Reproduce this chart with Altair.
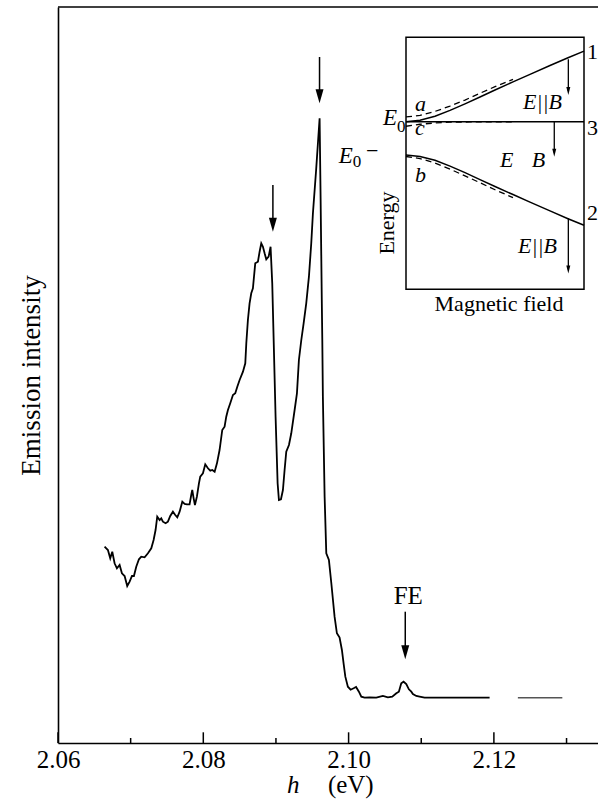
import altair as alt
import pandas as pd

FONT = "Liberation Serif"

# ---------------- main spectrum (photon energy in eV, intensity in arb. units) ----------------
energy = [
    2.06641, 2.06687, 2.06719, 2.06747, 2.06779, 2.06811, 2.06848, 2.06880, 2.06917, 2.06953,
    2.06986, 2.07018, 2.07045, 2.07077, 2.07114, 2.07146, 2.07192, 2.07238, 2.07284, 2.07316,
    2.07343, 2.07366, 2.07399, 2.07421, 2.07444, 2.07481, 2.07513, 2.07545, 2.07582, 2.07614,
    2.07642, 2.07674, 2.07711, 2.07743, 2.07775, 2.07811, 2.07834, 2.07848, 2.07867, 2.07885,
    2.07912, 2.07940, 2.07958, 2.07995, 2.08027, 2.08064, 2.08096, 2.08124, 2.08156, 2.08188,
    2.08224, 2.08261, 2.08293, 2.08316, 2.08339, 2.08371, 2.08408, 2.08440, 2.08468, 2.08500,
    2.08546, 2.08578, 2.08592, 2.08614, 2.08637, 2.08660, 2.08683, 2.08715, 2.08752, 2.08775,
    2.08798, 2.08821, 2.08844, 2.08867, 2.08899, 2.08926, 2.08949, 2.08972, 2.08995, 2.09023,
    2.09041, 2.09069, 2.09096, 2.09119, 2.09142, 2.09179, 2.09211, 2.09257, 2.09289, 2.09316,
    2.09349, 2.09381, 2.09417, 2.09454, 2.09486, 2.09509, 2.09553, 2.09601, 2.09615, 2.09631,
    2.09638, 2.09646, 2.09670, 2.09693, 2.09729, 2.09762, 2.09807, 2.09839, 2.09876, 2.09908,
    2.09931, 2.09955, 2.09990, 2.10028, 2.10069, 2.10103, 2.10142, 2.10175, 2.10220, 2.10289,
    2.10381, 2.10472, 2.10541, 2.10601, 2.10657, 2.10692, 2.10725, 2.10757, 2.10794, 2.10830,
    2.10863, 2.10885, 2.10932, 2.10977, 2.11046, 2.11941,
]
intensity = [
    196.3, 193.0, 184.7, 191.3, 179.7, 174.7, 178.0, 169.7, 167.0, 157.0,
    161.3, 167.0, 167.0, 176.3, 183.7, 186.3, 185.7, 189.7, 194.7, 203.0,
    213.0, 226.3, 223.0, 224.7, 221.3, 219.7, 221.3, 227.0, 231.3, 228.0,
    225.7, 231.3, 241.3, 239.0, 238.7, 238.7, 248.0, 253.0, 244.7, 238.0,
    246.3, 259.7, 266.3, 269.7, 278.7, 274.7, 272.3, 273.0, 271.3, 279.7,
    293.0, 313.0, 316.3, 326.3, 333.0, 339.7, 348.0, 349.7, 356.3, 363.0,
    371.3, 379.7, 399.7, 423.0, 439.7, 449.7, 454.7, 479.7, 481.3, 491.3,
    499.7, 496.3, 489.7, 483.7, 486.3, 496.3, 459.7, 393.0, 326.3, 259.7,
    243.0, 243.7, 253.0, 273.0, 291.3, 298.0, 309.7, 333.0, 349.7, 383.0,
    403.0, 419.7, 439.7, 466.3, 499.7, 529.7, 573.0, 624.7, 543.0, 443.0,
    403.0, 346.3, 246.3, 189.7, 183.0, 160.0, 126.3, 109.7, 105.5, 93.0,
    79.7, 66.3, 56.3, 53.3, 54.7, 56.0, 51.3, 46.3, 45.3, 45.7,
    45.3, 47.0, 45.7, 46.3, 49.7, 51.3, 59.7, 61.3, 59.0, 53.7,
    51.3, 49.0, 47.0, 46.3, 45.3, 45.3,
]
energy_tail = [2.12330, 2.12942]
intensity_tail = [45.3, 45.3]

x_domain = [2.06, 2.13433]
y_domain = [0, 736]
major_ticks = [2.06, 2.08, 2.10, 2.12]
minor_ticks = [2.07, 2.09, 2.11, 2.13]

arrow_energy = [2.08958, 2.09600, 2.10780]
arrow_top = [558.0, 686.0, 131.3]
arrow_tip = [511.3, 639.7, 83.7]

fe_energy, fe_intensity = [2.10822], [139.0]
xlabel_h_energy, xlabel_unit_energy, xlabel_level = [2.09151], [2.09715], [-50.0]

# ---------------- inset (magnetic field / energy, both in relative units 0..1) ----------------
field = [0.0, 0.0787, 0.1629, 0.2472, 0.3315, 0.4157, 0.5, 0.6011, 0.6966, 0.809, 0.9101, 1.0]
level_1 = [0.665, 0.671, 0.687, 0.710, 0.736, 0.763, 0.791, 0.823, 0.853, 0.888, 0.919, 0.945]
level_2 = [0.533, 0.527, 0.512, 0.489, 0.463, 0.435, 0.408, 0.376, 0.346, 0.311, 0.280, 0.254]
level_3_field = [0.0, 1.0]
level_3 = [0.665, 0.665]

field_dashed = [0.0, 0.0787, 0.1629, 0.2472, 0.3315, 0.4157, 0.5, 0.6011]
dashed_a = [0.684, 0.690, 0.706, 0.727, 0.751, 0.778, 0.804, 0.833]
dashed_b = [0.527, 0.519, 0.501, 0.477, 0.450, 0.423, 0.395, 0.364]
field_dashed_c = [0.0, 0.0787, 0.1629, 0.2472, 0.3596, 0.6011]
dashed_c = [0.647, 0.655, 0.660, 0.663, 0.664, 0.664]

inset_arrow_field = [0.912, 0.833, 0.912]
inset_arrow_top = [0.913, 0.665, 0.282]
inset_arrow_tip = [0.771, 0.526, 0.063]

# ---------------- scales / encodings ----------------
xs = alt.Scale(domain=x_domain, nice=False, zero=False)
ys = alt.Scale(domain=y_domain, nice=False, zero=False)
x_axis = alt.Axis(values=major_ticks, format=".2f", ticks=False, grid=False,
                  labelFont=FONT, labelFontSize=25, labelColor="black", labelPadding=4,
                  labelFlush=False, domainColor="black", domainWidth=1.6, title=None)
y_axis = alt.Axis(labels=False, ticks=False, grid=False, domainColor="black", domainWidth=1.6,
                  title="Emission intensity", titleFont=FONT, titleFontSize=27,
                  titleFontWeight="normal", titleColor="black", titlePadding=13)


def X(f):
    return alt.X(f"{f}:Q", scale=xs, axis=x_axis)


def Y(f):
    return alt.Y(f"{f}:Q", scale=ys, axis=y_axis)


ixs = alt.Scale(domain=[0, 1], range=[348, 526], nice=False, zero=False)
iys = alt.Scale(domain=[0, 1], range=[282.3, 30.3], nice=False, zero=False)


def IX(f):
    return alt.X(f"{f}:Q", scale=ixs, axis=None)


def IY(f):
    return alt.Y(f"{f}:Q", scale=iys, axis=None)


# ---------------- main layers ----------------
spec_df = pd.DataFrame({"E": energy, "I": intensity, "i": list(range(len(energy)))})
tail_df = pd.DataFrame({"E": energy_tail, "I": intensity_tail, "i": [0, 1]})

curve = alt.Chart(spec_df).mark_line(color="black", strokeWidth=1.8).encode(
    x=X("E"), y=Y("I"), order="i:Q")
tail = alt.Chart(tail_df).mark_line(color="#555555", strokeWidth=1.5).encode(
    x=X("E"), y=Y("I"), order="i:Q")

top_df = pd.DataFrame({"E": [x_domain[0]], "E2": [x_domain[1]], "I": [y_domain[1]]})
top_rule = alt.Chart(top_df).mark_rule(color="black", strokeWidth=1.6).encode(
    x=X("E"), x2="E2:Q", y=Y("I"))

tick_df = pd.DataFrame({
    "E": major_ticks + minor_ticks,
    "I": [0.0] * 8,
    "I2": [10.7] * 4 + [5.0] * 4,
})
tick_rules = alt.Chart(tick_df).mark_rule(color="black", strokeWidth=1.5).encode(
    x=X("E"), y=Y("I"), y2="I2:Q")

arrow_df = pd.DataFrame({
    "E": arrow_energy,
    "I": arrow_top,
    "H": [t + 7 for t in arrow_tip],
})
arrow_lines = alt.Chart(arrow_df).mark_rule(color="black", strokeWidth=1.5).encode(
    x=X("E"), y=Y("I"), y2="H:Q")
arrow_heads = alt.Chart(arrow_df).mark_point(
    shape="M-0.57,-1L0.57,-1L0,1Z", size=196, filled=True, color="black", opacity=1
).encode(x=X("E"), y=Y("H"))

fe_text = alt.Chart(pd.DataFrame({"E": fe_energy, "I": fe_intensity, "t": ["FE"]})).mark_text(
    font=FONT, fontSize=25, align="center", baseline="alphabetic", color="black"
).encode(x=X("E"), y=Y("I"), text="t:N")
h_text = alt.Chart(pd.DataFrame({"E": xlabel_h_energy, "I": xlabel_level, "t": ["h"]})).mark_text(
    font=FONT, fontSize=25, fontStyle="italic", align="left", baseline="alphabetic", color="black"
).encode(x=X("E"), y=Y("I"), text="t:N")
ev_text = alt.Chart(pd.DataFrame({"E": xlabel_unit_energy, "I": xlabel_level, "t": ["(eV)"]})).mark_text(
    font=FONT, fontSize=25, align="left", baseline="alphabetic", color="black"
).encode(x=X("E"), y=Y("I"), text="t:N")

main = alt.layer(curve, tail, top_rule, tick_rules, arrow_lines, arrow_heads,
                 fe_text, h_text, ev_text)

# ---------------- inset layers ----------------
frame = alt.Chart(pd.DataFrame({"B": [0.0], "B2": [1.0], "En": [0.0], "En2": [1.0]})).mark_rect(
    fill="white", stroke="black", strokeWidth=1.5
).encode(x=IX("B"), x2="B2:Q", y=IY("En"), y2="En2:Q")

solid_df = pd.DataFrame({
    "B": field + field + level_3_field,
    "En": level_1 + level_2 + level_3,
    "k": ["1"] * len(field) + ["2"] * len(field) + ["3"] * len(level_3_field),
    "i": list(range(len(field))) * 2 + [0, 1],
})
solid = alt.Chart(solid_df).mark_line(color="black", strokeWidth=1.5).encode(
    x=IX("B"), y=IY("En"), detail="k:N", order="i:Q")

dashed_df = pd.DataFrame({
    "B": field_dashed + field_dashed + field_dashed_c,
    "En": dashed_a + dashed_b + dashed_c,
    "k": ["a"] * len(field_dashed) + ["b"] * len(field_dashed) + ["c"] * len(field_dashed_c),
    "i": list(range(len(field_dashed))) * 2 + list(range(len(field_dashed_c))),
})
dashed = alt.Chart(dashed_df).mark_line(color="black", strokeWidth=1.3, strokeDash=[6, 4]).encode(
    x=IX("B"), y=IY("En"), detail="k:N", order="i:Q")

iarrow_df = pd.DataFrame({
    "B": inset_arrow_field,
    "En": inset_arrow_top,
    "H": [t + 0.016 for t in inset_arrow_tip],
})
iarrow_lines = alt.Chart(iarrow_df).mark_rule(color="black", strokeWidth=1.3).encode(
    x=IX("B"), y=IY("En"), y2="H:Q")
iarrow_heads = alt.Chart(iarrow_df).mark_point(
    shape="M-0.5,-1L0.5,-1L0,1Z", size=64, filled=True, color="black", opacity=1
).encode(x=IX("B"), y=IY("H"))


def itext(texts, bs, ens, size=22, style="normal", align="left", angle=0, baseline="alphabetic"):
    df = pd.DataFrame({"t": texts, "B": bs, "En": ens})
    return alt.Chart(df).mark_text(
        font=FONT, fontSize=size, fontStyle=style, align=align, baseline=baseline,
        angle=angle, color="black"
    ).encode(x=IX("B"), y=IY("En"), text="t:N")


t_italic_c = itext(["E||B", "E||B"], [0.767, 0.739], [0.716, 0.143], style="italic", align="center")
t_italic_l = itext(["a", "c", "b", "E", "B"], [0.05, 0.05, 0.05, 0.528, 0.706],
                   [0.709, 0.612, 0.427, 0.487, 0.487], style="italic")
t_e0 = itext(["E", "E"], [-0.05, -0.299], [0.652, 0.5], size=23, style="italic", align="right")
t_sub = itext(["0", "0"], [-0.05, -0.299], [0.626, 0.485], size=17)
t_minus = itext(["\u2212"], [-0.225], [0.521])
t_nums = itext(["1", "3", "2"], [1.017, 1.017, 1.017], [0.913, 0.612, 0.275])
t_field = itext(["Magnetic field"], [0.5225], [-0.086], align="center")
t_energy = itext(["Energy"], [-0.104], [0.263], align="center", angle=270, baseline="middle")

inset = alt.layer(frame, solid, dashed, iarrow_lines, iarrow_heads,
                  t_italic_c, t_italic_l, t_e0, t_sub, t_minus, t_nums, t_field, t_energy)

chart = alt.layer(main, inset).resolve_scale(x="independent", y="independent").properties(
    width=540, height=736,
    autosize=alt.AutoSizeParams(type="none"),
    padding={"left": 58, "top": 7, "right": 0, "bottom": 65},
).configure_view(stroke=None).configure_axis(labelFont=FONT, titleFont=FONT)

chart.save("out.html", embed_options={"renderer": "svg", "actions": False})
